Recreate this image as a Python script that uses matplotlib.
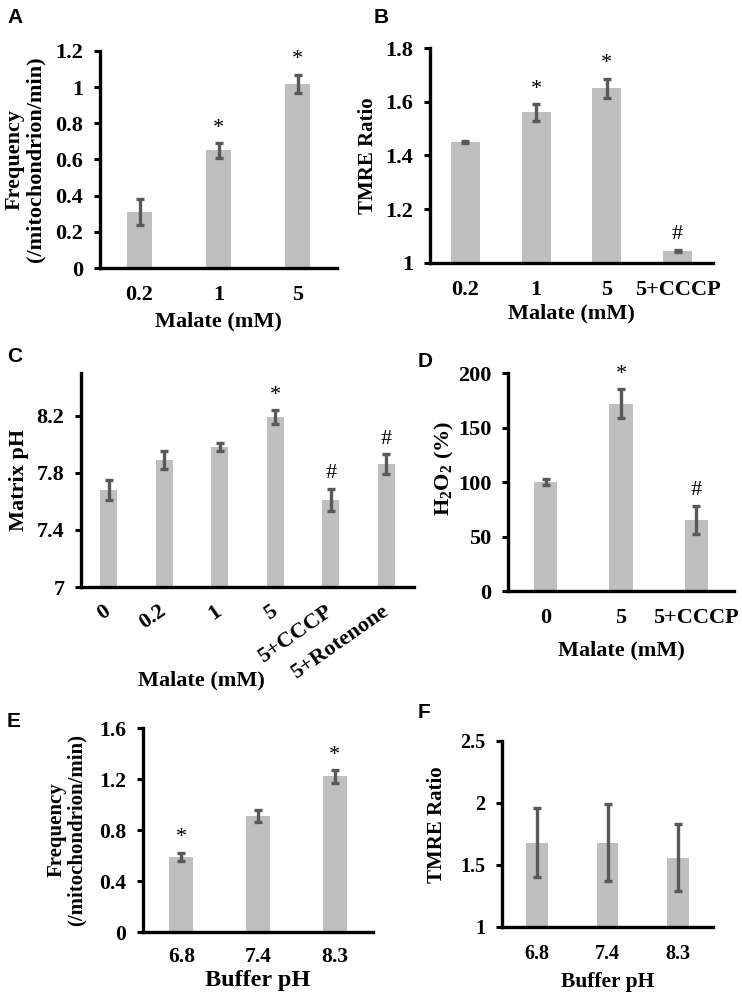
import matplotlib
matplotlib.use("Agg")
import matplotlib.pyplot as plt

plt.rcParams['font.family'] = ['Liberation Serif', 'DejaVu Serif']
plt.rcParams['font.weight'] = 'bold'
plt.rcParams['mathtext.fontset'] = 'custom'
plt.rcParams['mathtext.rm'] = 'Liberation Serif:bold'
plt.rcParams['mathtext.it'] = 'Liberation Serif:bold'
plt.rcParams['mathtext.bf'] = 'Liberation Serif:bold'

# ---------------- data ----------------
a_cats = ['0.2', '1', '5']
a_vals = [0.31, 0.65, 1.02]
a_errs = [0.07, 0.04, 0.05]
a_marks = ['', '*', '*']

b_cats = ['0.2', '1', '5', '5+CCCP']
b_vals = [1.45, 1.56, 1.65, 1.045]
b_errs = [0.005, 0.03, 0.035, 0.005]
b_marks = ['', '*', '*', '#']

c_cats = ['0', '0.2', '1', '5', '5+CCCP', '5+Rotenone']
c_vals = [7.68, 7.89, 7.98, 8.19, 7.61, 7.86]
c_errs = [0.07, 0.06, 0.03, 0.05, 0.08, 0.07]
c_marks = ['', '', '', '*', '#', '#']

d_cats = ['0', '5', '5+CCCP']
d_vals = [100, 172, 65]
d_errs = [3, 13, 13]
d_marks = ['', '*', '#']

e_cats = ['6.8', '7.4', '8.3']
e_vals = [0.59, 0.91, 1.22]
e_errs = [0.03, 0.05, 0.05]
e_marks = ['*', '', '*']

f_cats = ['6.8', '7.4', '8.3']
f_vals = [1.68, 1.68, 1.56]
f_errs = [0.28, 0.31, 0.27]
f_marks = ['', '', '']

BAR = '#bfbfbf'
ERR = '#595959'

W, H = 742, 997
fig = plt.figure(figsize=(W / 100, H / 100), dpi=100)


def make_ax(l, r, t, b):
    return fig.add_axes([l / W, 1 - b / H, (r - l) / W, (b - t) / H])


def panel(ax, cats, vals, errs, marks, ylim, yticks, yticklabels, width,
          ylabel, xlabel, fs=16, tfs=16, lfs=16, xfs=16, rot=0):
    x = list(range(len(cats)))
    ax.bar(x, vals, width=width, color=BAR, zorder=1)
    ax.errorbar(x, vals, yerr=errs, fmt='none', ecolor=ERR, elinewidth=2.4,
                capsize=3.2, capthick=2.4, zorder=2)
    for xi, v, e, m in zip(x, vals, errs, marks):
        if m:
            ax.annotate(m, (xi, v + e), xytext=(0, 4), textcoords='offset points',
                        ha='center', va='bottom', fontsize=fs, fontweight='normal')
    ax.set_xlim(-0.5, len(cats) - 0.5)
    ax.set_ylim(*ylim)
    ax.set_yticks(yticks)
    ax.set_yticklabels(yticklabels, fontsize=tfs, fontweight='bold')
    ax.set_xticks(x)
    if rot:
        ax.set_xticklabels(cats, fontsize=tfs, fontweight='bold', rotation=rot,
                           ha='right', va='center', rotation_mode='anchor')
    else:
        ax.set_xticklabels(cats, fontsize=tfs, fontweight='bold')
    ax.tick_params(axis='x', length=0, pad=12)
    ax.tick_params(axis='y', length=4, width=2.2, direction='out', pad=8)
    for s in ['top', 'right']:
        ax.spines[s].set_visible(False)
    for s in ['left', 'bottom']:
        ax.spines[s].set_linewidth(2.4)
    ax.set_ylabel(ylabel, fontsize=lfs, fontweight='bold', va='center',
                  linespacing=1.0)
    if xlabel:
        ax.set_xlabel(xlabel, fontsize=xfs, fontweight='bold', labelpad=3)


# A
axA = make_ax(100, 337, 51, 268)
panel(axA, a_cats, a_vals, a_errs, a_marks, (0, 1.2),
      [0, 0.2, 0.4, 0.6, 0.8, 1.0, 1.2], ['0', '0.2', '0.4', '0.6', '0.8', '1', '1.2'],
      0.32, 'Frequency\n(/mitochondrion/min)', 'Malate (mM)')
axA.yaxis.set_label_coords((25 - 100) / 237, 0.5)
axA.xaxis.labelpad = 5

# B
axB = make_ax(430, 713, 48, 263)
panel(axB, b_cats, b_vals, b_errs, b_marks, (1, 1.8),
      [1, 1.2, 1.4, 1.6, 1.8], ['1', '1.2', '1.4', '1.6', '1.8'],
      0.41, 'TMRE Ratio', 'Malate (mM)', lfs=15)
axB.yaxis.set_label_coords((368 - 430) / 283, 0.5)

# C
axC = make_ax(81, 414, 373, 587)
panel(axC, c_cats, c_vals, c_errs, c_marks, (7, 8.5),
      [7, 7.4, 7.8, 8.2], ['7', '7.4', '7.8', '8.2'],
      0.31, 'Matrix pH', None, rot=35)
axC.yaxis.set_label_coords((19 - 81) / 333, 0.5)
axC.tick_params(axis='x', pad=16)
axC.text((201 - 81) / 333, (587 - 680) / 214, 'Malate (mM)', transform=axC.transAxes,
         ha='center', va='center', fontsize=16, fontweight='bold')

# D
axD = make_ax(508, 734, 373, 591)
panel(axD, d_cats, d_vals, d_errs, d_marks, (0, 200),
      [0, 50, 100, 150, 200], ['0', '50', '100', '150', '200'],
      0.31, r'$\mathrm{H_2O_2}$ (%)', 'Malate (mM)')
axD.yaxis.set_label_coords((444 - 508) / 226, (591 - 468) / 218)
axD.xaxis.labelpad = 9

# E
axE = make_ax(143, 373, 728, 932)
panel(axE, e_cats, e_vals, e_errs, e_marks, (0, 1.6),
      [0, 0.4, 0.8, 1.2, 1.6], ['0', '0.4', '0.8', '1.2', '1.6'],
      0.31, 'Frequency\n(/mitochondrion/min)', 'Buffer pH', tfs=15.5, lfs=15, xfs=17.5)
axE.yaxis.set_label_coords((67 - 143) / 230, 0.5)
axE.tick_params(axis='x', pad=11)
axE.xaxis.labelpad = 2

# F
axF = make_ax(502, 713, 741, 927)
panel(axF, f_cats, f_vals, f_errs, f_marks, (1, 2.5),
      [1, 1.5, 2, 2.5], ['1', '1.5', '2', '2.5'],
      0.31, 'TMRE Ratio', 'Buffer pH', tfs=14.5, lfs=15, xfs=15.5)
axF.yaxis.set_label_coords((437 - 502) / 211, (927 - 825) / 186)
axF.tick_params(axis='x', pad=12)
axF.xaxis.labelpad = 6

# panel letters
for lab, px, py in [('A', 7, 8), ('B', 374, 8), ('C', 7, 347), ('D', 418, 352),
                    ('E', 7, 712), ('F', 418, 703)]:
    fig.text(px / W, 1 - py / H, lab, family='Liberation Sans', fontweight='bold',
             fontsize=15, ha='left', va='top')

fig.savefig('out.png', dpi=100)
